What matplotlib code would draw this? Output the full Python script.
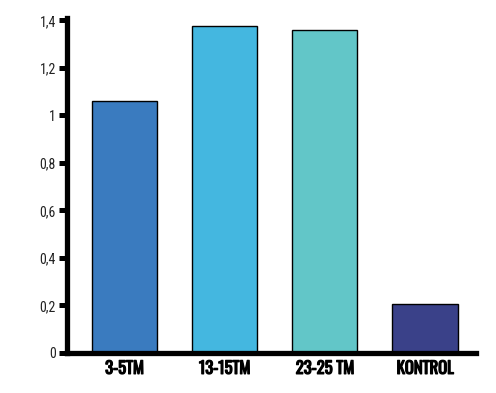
import matplotlib.pyplot as plt
import matplotlib.patheffects as pe

categories = ['3-5TM', '13-15TM', '23-25 TM', 'KONTROL']
values = [1.06, 1.375, 1.36, 0.205]
colors = ['#3a7bbf', '#44b7e0', '#62c6c8', '#3a4189']
ytick_vals = [0, 0.2, 0.4, 0.6, 0.8, 1.0, 1.2, 1.4]
ytick_labels = ['0', '0,2', '0,4', '0,6', '0,8', '1', '1,2', '1,4']

plt.rcParams['font.family'] = ['Roboto Condensed', 'DejaVu Sans']

fig = plt.figure(figsize=(4.96, 3.93), dpi=100)
ax = fig.add_axes([0.135, 0.102, 0.825, 0.852])

x = range(len(categories))
ax.bar(x, values, width=0.65, color=colors, edgecolor='black', linewidth=1, zorder=2)

ax.set_xlim(-0.574, 3.51)
ax.set_ylim(0, 1.41)
ax.set_yticks(ytick_vals)
ax.set_yticklabels(ytick_labels, fontsize=10, color='#222222')
ax.set_xticks(list(x))
ax.set_xticklabels(categories, fontsize=12, family=['Oswald', 'DejaVu Sans'],
                   path_effects=[pe.withStroke(linewidth=0.9, foreground='black')])

for s in ['top', 'right']:
    ax.spines[s].set_visible(False)
for s in ['left', 'bottom']:
    ax.spines[s].set_linewidth(3.8)
ax.tick_params(axis='y', length=6, width=3.6, direction='out', pad=2)
ax.tick_params(axis='x', length=0, pad=5)

fig.savefig('out.png', dpi=100)
